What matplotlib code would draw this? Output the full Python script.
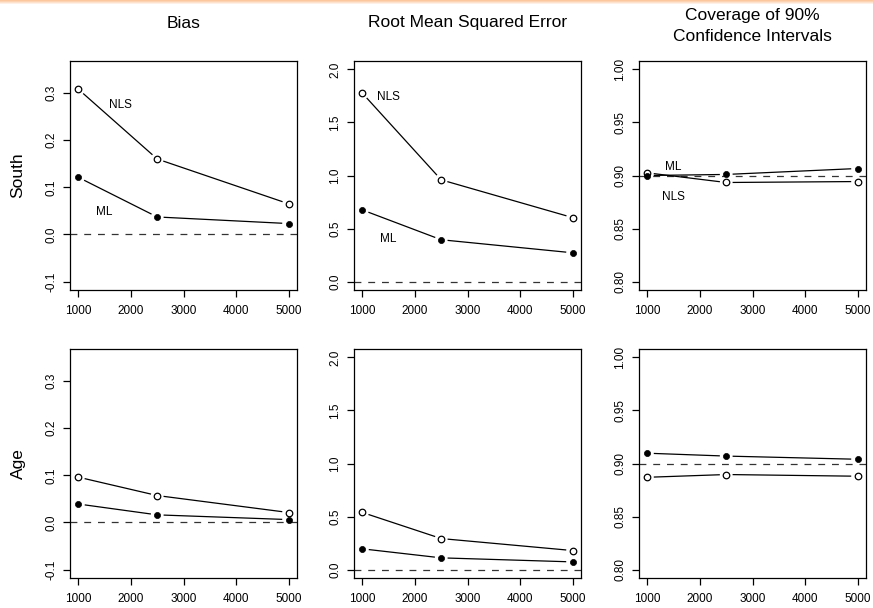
import numpy as np
import matplotlib
matplotlib.use("Agg")
import matplotlib.pyplot as plt
from matplotlib.colors import LinearSegmentedColormap

plt.rcParams["font.family"] = ["Liberation Sans", "DejaVu Sans"]

# sample sizes
n = [1000, 2500, 5000]

# bias
bias_south_nls = [0.308, 0.160, 0.065]
bias_south_ml = [0.121, 0.037, 0.023]
bias_age_nls = [0.096, 0.057, 0.021]
bias_age_ml = [0.039, 0.016, 0.006]

# root mean squared error
rmse_south_nls = [1.776, 0.959, 0.603]
rmse_south_ml = [0.675, 0.394, 0.271]
rmse_age_nls = [0.538, 0.292, 0.179]
rmse_age_ml = [0.195, 0.110, 0.072]

# coverage of 90% intervals
cover_south_nls = [0.9025, 0.8934, 0.8943]
cover_south_ml = [0.900, 0.901, 0.9066]
cover_age_nls = [0.887, 0.8896, 0.888]
cover_age_ml = [0.9097, 0.907, 0.904]

titles = ["Bias", "Root Mean Squared Error", "Coverage of 90%\nConfidence Intervals"]
rows = ["South", "Age"]
ylims = [(-0.1, 0.35), (0.0, 2.0), (0.8, 1.0)]
yticks = [[-0.1, 0.0, 0.1, 0.2, 0.3], [0.0, 0.5, 1.0, 1.5, 2.0],
          [0.80, 0.85, 0.90, 0.95, 1.00]]
yfmt = ["%.1f", "%.1f", "%.2f"]
refs = [0.0, 0.0, 0.9]
xticks = [1000, 2000, 3000, 4000, 5000]

data = [
    [(bias_south_nls, bias_south_ml), (rmse_south_nls, rmse_south_ml), (cover_south_nls, cover_south_ml)],
    [(bias_age_nls, bias_age_ml), (rmse_age_nls, rmse_age_ml), (cover_age_nls, cover_age_ml)],
]

# label positions (top row only)
labels = [
    [("NLS", 1800, 0.274), ("ML", 1500, 0.048)],
    [("NLS", 1500, 1.74), ("ML", 1500, 0.40)],
    [("ML", 1500, 0.908), ("NLS", 1500, 0.8795)],
]

W, H = 873, 608
fig = plt.figure(figsize=(W / 100, H / 100), dpi=100)

GAP = 7.0  # pixels


def ext(lo, hi):
    r = hi - lo
    return lo - 0.04 * r, hi + 0.04 * r


def type_b(ax, x, y, filled):
    pts = ax.transData.transform(np.column_stack([x, y]))
    inv = ax.transData.inverted()
    for i in range(len(pts) - 1):
        p0, p1 = pts[i], pts[i + 1]
        d = p1 - p0
        L = np.hypot(d[0], d[1])
        if L > 2 * GAP:
            u = d / L
            seg = inv.transform(np.array([p0 + u * GAP, p1 - u * GAP]))
            ax.plot(seg[:, 0], seg[:, 1], color="black", lw=0.9, zorder=3)
    if filled:
        ax.plot(x, y, "o", ms=4.4, mew=0.5, mec="black", mfc="black", zorder=4)
    else:
        ax.plot(x, y, "o", ms=4.7, mew=0.9, mec="black", mfc="white", zorder=4)


lefts = [70, 354, 639]
tops = [61, 349]
aw, ah = 227, 229
title_off = [38, 38, 35]

for r in range(2):
    for c in range(3):
        ax = fig.add_axes([lefts[c] / W, 1 - (tops[r] + ah) / H, aw / W, ah / H])
        ax.set_xlim(*ext(1000, 5000))
        ax.set_ylim(*ext(*ylims[c]))
        ax.axhline(refs[c], color="#333333", lw=0.9, dashes=(5.5, 5.5), zorder=2)
        nls, ml = data[r][c]
        type_b(ax, n, nls, False)
        type_b(ax, n, ml, True)

        ax.set_xticks(xticks)
        ax.set_xticklabels([str(t) for t in xticks])
        ax.set_yticks(yticks[c])
        ax.set_yticklabels([yfmt[c] % t for t in yticks[c]])
        ax.tick_params(direction="out", length=5.3, width=0.9, labelsize=8.5)
        ax.tick_params(axis="x", pad=5.5)
        ax.tick_params(axis="y", labelrotation=90, pad=3.8)
        for lab in ax.get_yticklabels():
            lab.set_va("center")
        for s in ax.spines.values():
            s.set_linewidth(0.9)

        if r == 0:
            for txt, lx, ly in labels[c]:
                ax.text(lx, ly, txt, fontsize=8.5, ha="center", va="center")
            ax.text(0.5, 1 + title_off[c] / ah, titles[c], transform=ax.transAxes,
                    ha="center", va="center", fontsize=12.5, linespacing=1.5)
        if c == 0:
            fig.text(18 / W, 1 - (tops[r] + ah / 2) / H, rows[r], rotation=90,
                     ha="center", va="center", fontsize=12.5)

# thin peach strip along the top edge
strip = fig.add_axes([0, 1 - 5 / H, 1, 5 / H])
cmap = LinearSegmentedColormap.from_list("strip", ["#ffffff", "#fcc79c"])
strip.imshow(np.linspace(1, 0, 5).reshape(-1, 1), aspect="auto", cmap=cmap)
strip.axis("off")

fig.savefig("out.png", dpi=100)
